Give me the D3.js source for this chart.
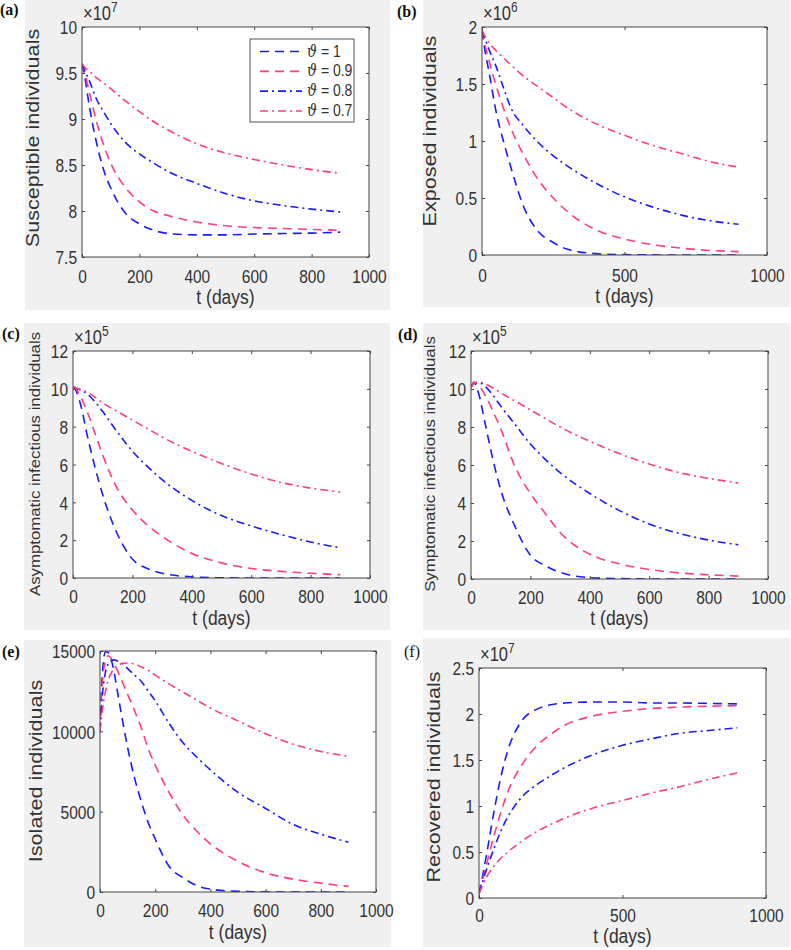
<!DOCTYPE html>
<html><head><meta charset="utf-8">
<script src="https://cdn.jsdelivr.net/npm/d3@7/dist/d3.min.js"></script>
<style>html,body{margin:0;padding:0;background:#fff;}svg{display:block;}</style>
</head><body>
<script>
// ---------------- DATA ----------------
const thetaValues = ["1", "0.9", "0.8", "0.7"];
const tDays = [0, 10, 25, 50, 75, 100, 150, 200, 250, 300, 400, 500, 600, 700, 800, 900];
const tIso  = [0, 5, 10, 20, 30, 40, 50, 60, 75, 100, 125, 150, 175, 200, 250, 300, 350, 400, 500, 600, 700, 800, 900];

// (a) Susceptible, x1e7
const susc1  = [9.6, 9.45, 9.15, 8.75, 8.45, 8.25, 7.98, 7.86, 7.79, 7.755, 7.74, 7.74, 7.75, 7.755, 7.76, 7.77];
const susc09 = [9.6, 9.5, 9.3, 8.98, 8.72, 8.52, 8.26, 8.1, 8.0, 7.95, 7.88, 7.84, 7.82, 7.81, 7.8, 7.79];
const susc08 = [9.6, 9.52, 9.42, 9.22, 9.08, 8.95, 8.75, 8.62, 8.52, 8.43, 8.3, 8.19, 8.11, 8.06, 8.02, 7.99];
const susc07 = [9.6, 9.56, 9.52, 9.45, 9.39, 9.33, 9.2, 9.08, 8.97, 8.88, 8.73, 8.63, 8.56, 8.5, 8.45, 8.41];
// (b) Exposed, x1e6
const expo1  = [1.97, 1.8, 1.6, 1.25, 1.0, 0.78, 0.4, 0.2, 0.11, 0.05, 0.012, 0.003, 0.001, 0, 0, 0];
const expo09 = [1.97, 1.85, 1.7, 1.48, 1.29, 1.12, 0.86, 0.65, 0.5, 0.38, 0.22, 0.14, 0.09, 0.06, 0.04, 0.03];
const expo08 = [1.97, 1.9, 1.8, 1.65, 1.47, 1.3, 1.12, 0.98, 0.87, 0.78, 0.63, 0.51, 0.42, 0.35, 0.3, 0.27];
const expo07 = [1.97, 1.92, 1.86, 1.79, 1.73, 1.67, 1.56, 1.47, 1.38, 1.29, 1.15, 1.05, 0.96, 0.89, 0.82, 0.77];
// (c) Asymptomatic infectious, x1e5
const asym1  = [10.1, 9.9, 9.2, 7.4, 5.8, 4.4, 2.3, 1.0, 0.5, 0.25, 0.06, 0.01, 0, 0, 0, 0];
const asym09 = [10.1, 10.0, 9.6, 8.7, 7.6, 6.5, 4.7, 3.6, 2.8, 2.2, 1.3, 0.8, 0.5, 0.35, 0.25, 0.17];
const asym08 = [10.1, 10.05, 9.95, 9.7, 9.3, 8.8, 7.7, 6.7, 5.9, 5.2, 4.1, 3.3, 2.75, 2.3, 1.9, 1.6];
const asym07 = [10.1, 10.05, 9.95, 9.8, 9.55, 9.25, 8.8, 8.35, 7.9, 7.45, 6.7, 6.05, 5.5, 5.05, 4.75, 4.55];
// (d) Symptomatic infectious, x1e5
const symp1  = [10.1, 10.35, 9.8, 8.0, 6.2, 4.7, 2.7, 1.25, 0.7, 0.35, 0.07, 0.02, 0, 0, 0, 0];
const symp09 = [10.1, 10.35, 10.2, 9.6, 8.8, 7.9, 5.85, 4.5, 3.45, 2.45, 1.3, 0.8, 0.5, 0.32, 0.22, 0.15];
const symp08 = [10.1, 10.3, 10.35, 10.1, 9.65, 9.1, 8.1, 7.1, 6.3, 5.6, 4.5, 3.6, 2.9, 2.4, 2.05, 1.8];
const symp07 = [10.1, 10.3, 10.37, 10.25, 10.05, 9.8, 9.35, 8.9, 8.45, 8.0, 7.25, 6.6, 6.05, 5.6, 5.3, 5.05];
// (e) Isolated
const iso1  = [10000, 12500, 13900, 14950, 14900, 14500, 13800, 12800, 11300, 9000, 7100, 5600, 4300, 3300, 1600, 900, 400, 180, 40, 10, 0, 0, 0];
const iso09 = [10000, 12000, 13300, 14400, 14700, 14550, 14200, 13900, 13300, 12300, 11300, 10200, 8900, 7900, 6200, 4800, 3800, 3000, 1900, 1200, 800, 550, 350];
const iso08 = [10000, 11500, 12500, 13700, 14200, 14400, 14450, 14400, 14300, 13900, 13500, 13100, 12500, 11900, 10500, 9300, 8400, 7600, 6200, 5200, 4200, 3600, 3100];
const iso07 = [10000, 10800, 11500, 12500, 13200, 13600, 13900, 14050, 14200, 14250, 14200, 14000, 13800, 13500, 12950, 12450, 11950, 11450, 10650, 9850, 9200, 8750, 8450];
// (f) Recovered, x1e7
const rec1  = [0.05, 0.2, 0.45, 0.9, 1.3, 1.6, 1.93, 2.05, 2.1, 2.12, 2.13, 2.13, 2.12, 2.12, 2.115, 2.11];
const rec09 = [0.05, 0.17, 0.35, 0.65, 0.92, 1.15, 1.45, 1.65, 1.78, 1.88, 1.98, 2.03, 2.06, 2.075, 2.085, 2.09];
const rec08 = [0.05, 0.15, 0.3, 0.52, 0.72, 0.88, 1.1, 1.23, 1.33, 1.42, 1.56, 1.66, 1.73, 1.79, 1.82, 1.85];
const rec07 = [0.05, 0.12, 0.22, 0.34, 0.43, 0.5, 0.62, 0.72, 0.8, 0.87, 0.98, 1.06, 1.14, 1.21, 1.29, 1.36];

// tick values
const xTicks200 = [0, 200, 400, 600, 800, 1000];
const xTicks500 = [0, 500, 1000];
const yTicksS = [7.5, 8, 8.5, 9, 9.5, 10];
const yTicksE = [0, 0.5, 1, 1.5, 2];
const yTicksA = [0, 2, 4, 6, 8, 10, 12];
const yTicksIso = [0, 5000, 10000, 15000];
const yTicksR = [0, 0.5, 1, 1.5, 2, 2.5];

// ---------------- STYLE / LAYOUT ----------------
const W = 791, H = 950;
const FONT = "'Liberation Sans', Arial, Helvetica, sans-serif";
const SY = 1.2; // vertical stretch of text as in the reference
const styles = [
  {color: "#1a1aff", dash: "9,6"},
  {color: "#ff3d7f", dash: "9,6"},
  {color: "#1a1aff", dash: "8,4,2,4"},
  {color: "#ff3d7f", dash: "8,4,2,4"}
];

const panels = [
  {letter: "(a)", lx: 0, ly: 15, bold: true, bg: [25, 0, 390, 310], plot: [82, 27, 369, 257],
   yDomain: [7.5, 10], yTicks: yTicksS, xTicks: xTicks200, exp: "7",
   ylabel: "Susceptible individuals", ylFont: 18, ylX: 39, ylY: 138, xlY: 304, tlY: 283,
   t: tDays, series: [susc1, susc09, susc08, susc07], legend: true},
  {letter: "(b)", lx: 397, ly: 17, bold: true, bg: [423, 0, 790, 307], plot: [482, 27, 767, 255],
   yDomain: [0, 2], yTicks: yTicksE, xTicks: xTicks500, exp: "6",
   ylabel: "Exposed individuals", ylFont: 18, ylX: 436, ylY: 131, xlY: 303, tlY: 282,
   t: tDays, series: [expo1, expo09, expo08, expo07]},
  {letter: "(c)", lx: 2, ly: 339, bold: true, bg: [24, 323, 390, 630], plot: [73, 351, 370, 578],
   yDomain: [0, 12], yTicks: yTicksA, xTicks: xTicks200, exp: "5",
   ylabel: "Asymptomatic infectious individuals", ylFont: 14, ylX: 40, ylY: 464, xlY: 625, tlY: 603,
   t: tDays, series: [asym1, asym09, asym08, asym07]},
  {letter: "(d)", lx: 398, ly: 340, bold: true, bg: [423, 323, 790, 630], plot: [471, 351, 768, 579],
   yDomain: [0, 12], yTicks: yTicksA, xTicks: xTicks200, exp: "5",
   ylabel: "Symptomatic infectious individuals", ylFont: 14, ylX: 435, ylY: 464, xlY: 625, tlY: 604,
   t: tDays, series: [symp1, symp09, symp08, symp07]},
  {letter: "(e)", lx: 2, ly: 657, bold: true, bg: [24, 640, 391, 947], plot: [100, 651, 376, 892],
   yDomain: [0, 15000], yTicks: yTicksIso, xTicks: xTicks200, exp: null,
   ylabel: "Isolated individuals", ylFont: 18, ylX: 42, ylY: 771, xlY: 939, tlY: 917,
   t: tIso, series: [iso1, iso09, iso08, iso07]},
  {letter: "(f)", lx: 404, ly: 657, bold: false, bg: [423, 638, 790, 947], plot: [479, 668, 766, 898],
   yDomain: [0, 2.5], yTicks: yTicksR, xTicks: xTicks500, exp: "7",
   ylabel: "Recovered individuals", ylFont: 18, ylX: 440, ylY: 777, xlY: 943, tlY: 922,
   t: tDays, series: [rec1, rec09, rec08, rec07]}
];

// ---------------- DRAW ----------------
const svg = d3.select("body").append("svg").attr("width", W).attr("height", H);
svg.append("rect").attr("width", W).attr("height", H).attr("fill", "#fff");

function stretchedText(parent, x, y, str, size, opts = {}) {
  const g = parent.append("g").attr("transform", `translate(${x},${y}) scale(1,${SY})`);
  const t = g.append("text")
    .attr("font-family", opts.family || FONT)
    .attr("font-size", size)
    .attr("font-weight", opts.weight || "normal")
    .attr("fill", opts.fill || "#333")
    .attr("text-anchor", opts.anchor || "start");
  if (opts.rotate) t.attr("transform", "rotate(-90)");
  if (str !== null) t.text(str);
  return t;
}

panels.forEach(p => {
  const [bx0, by0, bx1, by1] = p.bg;
  svg.append("rect").attr("x", bx0).attr("y", by0).attr("width", bx1 - bx0).attr("height", by1 - by0).attr("fill", "#f0f0f0");
  const [l, t, r, b] = p.plot;
  const x = d3.scaleLinear().domain([0, 1000]).range([l, r]);
  const y = d3.scaleLinear().domain(p.yDomain).range([b, t]);

  svg.append("rect").attr("x", l).attr("y", t).attr("width", r - l).attr("height", b - t).attr("fill", "#fff");

  // lines
  const clipId = "clip" + p.letter.replace(/\W/g, "");
  svg.append("clipPath").attr("id", clipId).append("rect").attr("x", l).attr("y", t).attr("width", r - l).attr("height", b - t);
  const lg = svg.append("g").attr("clip-path", `url(#${clipId})`);
  const line = d3.line().x((d, i) => x(p.t[i])).y(d => y(d)).curve(d3.curveMonotoneX);
  p.series.forEach((s, i) => {
    lg.append("path").attr("d", line(s)).attr("fill", "none")
      .attr("stroke", styles[i].color).attr("stroke-width", 1.6)
      .attr("stroke-dasharray", styles[i].dash);
  });

  // axes (inside ticks on four sides)
  const fmt = v => String(v);
  const axL = svg.append("g").attr("transform", `translate(${l},0)`)
    .call(d3.axisLeft(y).tickValues(p.yTicks).tickSizeInner(-3).tickSizeOuter(0).tickPadding(5).tickFormat(fmt));
  const axR = svg.append("g").attr("transform", `translate(${r},0)`)
    .call(d3.axisRight(y).tickValues(p.yTicks).tickSizeInner(-3).tickSizeOuter(0).tickFormat(""));
  const axB = svg.append("g").attr("transform", `translate(0,${b})`)
    .call(d3.axisBottom(x).tickValues(p.xTicks).tickSizeInner(-3).tickSizeOuter(0).tickFormat(fmt));
  const axT = svg.append("g").attr("transform", `translate(0,${t})`)
    .call(d3.axisTop(x).tickValues(p.xTicks).tickSizeInner(-3).tickSizeOuter(0).tickFormat(""));
  [axL, axR, axB, axT].forEach(a => {
    a.select(".domain").remove();
    a.selectAll(".tick line").attr("stroke", "#444").attr("stroke-width", 1);
    a.selectAll("text").attr("font-family", FONT).attr("font-size", 15.5).attr("fill", "#333");
  });
  axL.selectAll(".tick text").attr("x", -5).attr("y", 0).attr("dy", "0.36em")
    .attr("transform", `scale(1,${SY})`);
  axB.selectAll(".tick text").attr("y", (p.tlY - b) / SY).attr("dy", 0)
    .attr("transform", `scale(1,${SY})`);

  // box
  svg.append("rect").attr("x", l).attr("y", t).attr("width", r - l).attr("height", b - t)
    .attr("fill", "none").attr("stroke", "#444").attr("stroke-width", 1);

  // exponent
  if (p.exp) {
    const et = stretchedText(svg, l + 1, t - 7, "\u00D710", 16.5);
    et.append("tspan").attr("dy", -7).attr("font-size", 12).text(p.exp);
  }

  // labels
  stretchedText(svg, (l + r) / 2, p.xlY, "t (days)", 17.5, {anchor: "middle"});
  stretchedText(svg, p.ylX, p.ylY, p.ylabel, p.ylFont, {anchor: "middle", rotate: true});
  svg.append("text").attr("x", p.lx).attr("y", p.ly)
    .attr("font-family", "'Liberation Serif', 'DejaVu Serif', serif")
    .attr("font-size", 16).attr("font-weight", p.bold ? "bold" : "normal").attr("fill", "#111")
    .text(p.letter);

  // legend
  if (p.legend) {
    const lgx0 = 250, lgy0 = 39, lgw = 104, lgh = 83;
    const leg = svg.append("g");
    leg.append("rect").attr("x", lgx0).attr("y", lgy0).attr("width", lgw).attr("height", lgh)
      .attr("fill", "#fff").attr("stroke", "#555").attr("stroke-width", 1);
    const rowY = d3.scalePoint().domain(thetaValues).range([lgy0 + 12.5, lgy0 + 72]);
    thetaValues.forEach((v, i) => {
      const yy = rowY(v);
      leg.append("line").attr("x1", lgx0 + 10).attr("x2", lgx0 + 52).attr("y1", yy).attr("y2", yy)
        .attr("stroke", styles[i].color).attr("stroke-width", 1.6).attr("stroke-dasharray", styles[i].dash);
      const tx = stretchedText(leg, lgx0 + 57, yy + 5, null, 14);
      tx.append("tspan").attr("font-family", "'DejaVu Serif', serif").attr("font-style", "italic").text("\u03D1");
      tx.append("tspan").text(" = " + v);
    });
  }
});
</script>
</body></html>
